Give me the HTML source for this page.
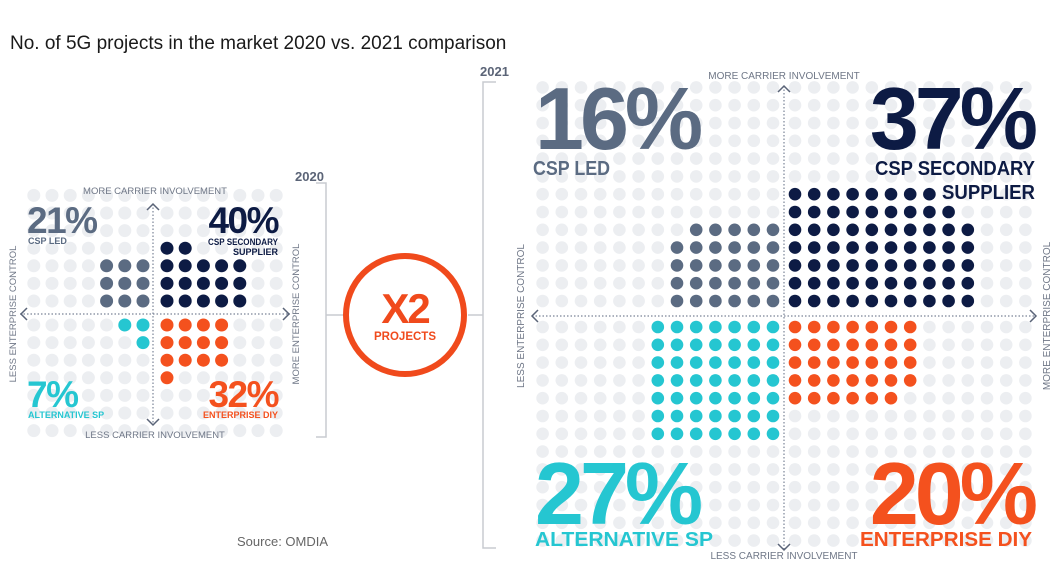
<!DOCTYPE html>
<html><head><meta charset="utf-8"><style>
html,body{margin:0;padding:0;background:#fff;}
svg{display:block;font-family:"Liberation Sans",sans-serif;}
</style></head><body>
<svg id="s" width="1060" height="587" viewBox="0 0 1060 587" xmlns="http://www.w3.org/2000/svg">
<text x="10" y="49" font-size="19" fill="#1a1a1a">No. of 5G projects in the market 2020 vs. 2021 comparison</text>
<g id="dots"></g>
<g stroke="#7a8496" stroke-width="1.2" stroke-dasharray="1.5 2" fill="none">
<line x1="532" y1="316" x2="1036" y2="316"/><line x1="784" y1="86" x2="784" y2="550"/>
<line x1="20" y1="314" x2="290" y2="314"/><line x1="153" y1="204" x2="153" y2="425"/>
</g>
<g stroke="#5a6478" stroke-width="1.5" fill="none">
<polyline points="538,310 532,316 538,322"/><polyline points="1030,310 1036,316 1030,322"/>
<polyline points="778,92 784,86 790,92"/><polyline points="778,544 784,550 790,544"/>
<polyline points="27,308 21,314 27,320"/><polyline points="283,308 289,314 283,320"/>
<polyline points="147,210 153,204 159,210"/><polyline points="147,419 153,425 159,419"/>
</g>
<g stroke="#c8cbd0" stroke-width="1.5" fill="none">
<polyline points="316,183 326,183 326,437 316,437"/><line x1="326" y1="315" x2="343" y2="315"/>
<polyline points="496,82 483,82 483,548 496,548"/><line x1="468" y1="315" x2="483" y2="315"/>
</g>
<text x="295" y="181" font-size="13" font-weight="bold" fill="#5b6477">2020</text>
<text x="480" y="76" font-size="13" font-weight="bold" fill="#5b6477">2021</text>
<circle cx="405" cy="315" r="59" fill="#fff" stroke="#f04a1c" stroke-width="6"/>
<text x="405" y="323" font-size="42" font-weight="bold" fill="#f04a1c" text-anchor="middle" letter-spacing="-2">X2</text>
<text x="405" y="340" font-size="11.5" font-weight="bold" fill="#f04a1c" text-anchor="middle">PROJECTS</text>
<g fill="#6f7787" font-size="10">
<text x="784" y="79" text-anchor="middle">MORE CARRIER INVOLVEMENT</text>
<text x="784" y="559" text-anchor="middle">LESS CARRIER INVOLVEMENT</text>
<text transform="translate(524,316) rotate(-90)" text-anchor="middle">LESS ENTERPRISE CONTROL</text>
<text transform="translate(1050,316) rotate(-90)" text-anchor="middle">MORE ENTERPRISE CONTROL</text>
<text x="155" y="194" text-anchor="middle" font-size="9.5">MORE CARRIER INVOLVEMENT</text>
<text x="155" y="438" text-anchor="middle" font-size="9.5">LESS CARRIER INVOLVEMENT</text>
<text transform="translate(16,314) rotate(-90)" text-anchor="middle" font-size="9.5">LESS ENTERPRISE CONTROL</text>
<text transform="translate(299,314) rotate(-90)" text-anchor="middle" font-size="9.5">MORE ENTERPRISE CONTROL</text>
</g>
<g font-weight="bold">
<text x="535" y="149" font-size="88" fill="#5b6b82" letter-spacing="-4">16%</text>
<text x="533" y="175" font-size="20" fill="#5b6b82" textLength="77" lengthAdjust="spacingAndGlyphs">CSP LED</text>
<text x="1034" y="149" font-size="88" fill="#0d1b44" letter-spacing="-4" text-anchor="end">37%</text>
<text x="875" y="175" font-size="20" fill="#0d1b44" textLength="160" lengthAdjust="spacingAndGlyphs">CSP SECONDARY</text>
<text x="942" y="199" font-size="20" fill="#0d1b44" textLength="93" lengthAdjust="spacingAndGlyphs">SUPPLIER</text>
<text x="535" y="524" font-size="88" fill="#25c6d1" letter-spacing="-4">27%</text>
<text x="535" y="546" font-size="20" fill="#25c6d1" textLength="178" lengthAdjust="spacingAndGlyphs">ALTERNATIVE SP</text>
<text x="1034" y="524" font-size="88" fill="#f4511e" letter-spacing="-4" text-anchor="end">20%</text>
<text x="860" y="546" font-size="20" fill="#f4511e" textLength="172" lengthAdjust="spacingAndGlyphs">ENTERPRISE DIY</text>

<text x="27" y="233" font-size="37" fill="#5b6b82" letter-spacing="-1.5">21%</text>
<text x="28" y="244" font-size="9" fill="#5b6b82">CSP LED</text>
<text x="278" y="233" font-size="37" fill="#0d1b44" letter-spacing="-1.5" text-anchor="end">40%</text>
<text x="208" y="245" font-size="9" fill="#0d1b44" textLength="70" lengthAdjust="spacingAndGlyphs">CSP SECONDARY</text>
<text x="278" y="255" font-size="9" fill="#0d1b44" text-anchor="end">SUPPLIER</text>
<text x="27" y="407" font-size="37" fill="#25c6d1" letter-spacing="-1.5">7%</text>
<text x="28" y="418" font-size="9" fill="#25c6d1">ALTERNATIVE SP</text>
<text x="278" y="407" font-size="37" fill="#f4511e" letter-spacing="-1.5" text-anchor="end">32%</text>
<text x="278" y="418" font-size="9" fill="#f4511e" text-anchor="end">ENTERPRISE DIY</text>
</g>
<text x="237" y="546" font-size="13" fill="#666">Source: OMDIA</text>
</svg>
<script>
var g=document.getElementById('dots'),h='';
var L='#eceef1',N='#0d1b44',S='#5b6b82',T='#25c6d1',O='#f4511e';
function grid(cx,cy,gx,gy,sx,sy,n,r,q){
 for(var qd=0;qd<4;qd++){var right=qd%2==1,down=qd>=2;
  for(var i=0;i<n;i++)for(var j=0;j<n;j++){
   var x=right?cx+gx+j*sx:cx-gx-j*sx, y=down?cy+gy+i*sy:cy-gy-i*sy;
   h+='<circle cx="'+x.toFixed(1)+'" cy="'+y.toFixed(1)+'" r="'+r+'" fill="'+q(qd,i,j)+'"/>';
  }}
}
grid(784,314,11,13,19.2,17.8,13,6.3,function(q,i,j){
 if(q==1){var w=i<5?10:i==5?9:i==6?8:0;return j<w?N:L;}
 if(q==0){var w=i<4?6:i==4?5:0;return j<w?S:L;}
 if(q==2){return (i<7&&j<7)?T:L;}
 var w=i<4?7:i==4?6:0;return j<w?O:L;});
grid(155,313,12,12,18.2,17.6,7,6.5,function(q,i,j){
 if(q==1){var w=i<3?5:i==3?2:0;return j<w?N:L;}
 if(q==0){return (i<3&&j<3)?S:L;}
 if(q==2){var w=i==0?2:i==1?1:0;return j<w?T:L;}
 var w=i<3?4:i==3?1:0;return j<w?O:L;});
g.innerHTML=h;
</script>
</body></html>
